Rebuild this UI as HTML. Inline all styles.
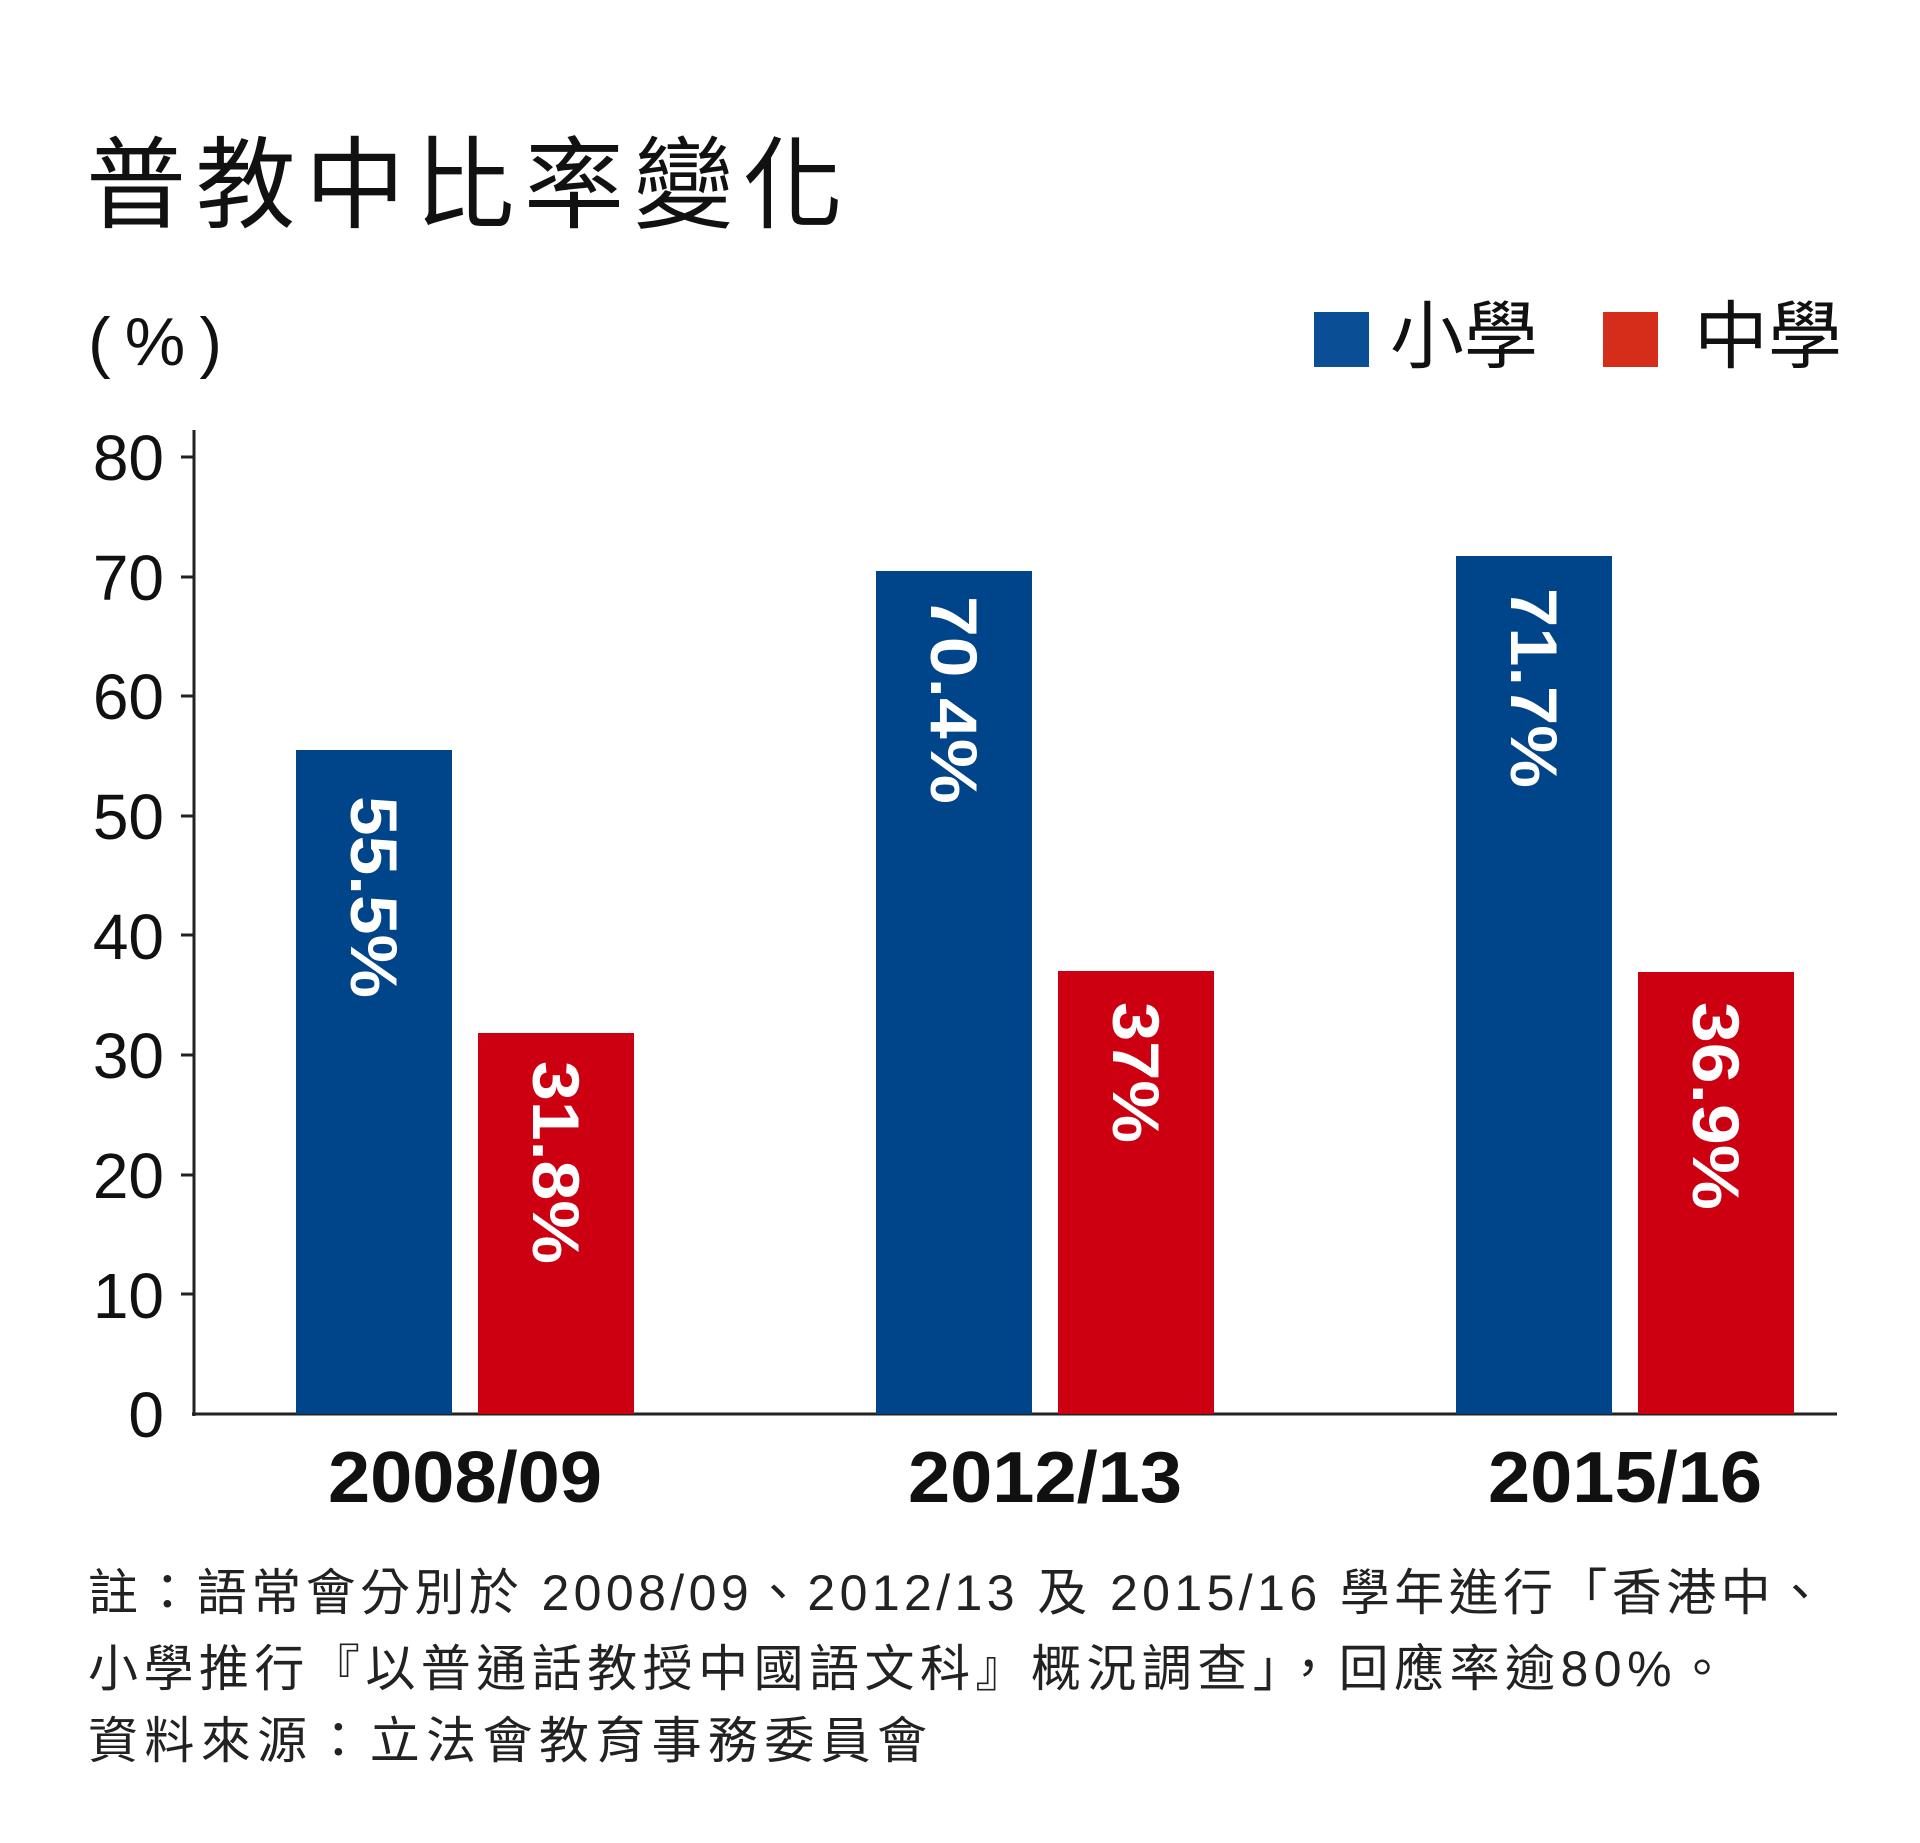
<!DOCTYPE html>
<html><head><meta charset="utf-8"><style>
html,body{margin:0;padding:0;background:#fff}
svg{display:block}
text{font-family:"Liberation Sans","Noto Sans CJK TC",sans-serif}
</style></head><body>
<svg width="1920" height="1843" viewBox="0 0 1920 1843" xmlns="http://www.w3.org/2000/svg">
<rect width="1920" height="1843" fill="#fff"/>
<text x="86" y="220" font-size="100" fill="#111" textLength="757" lengthAdjust="spacing">普教中比率變化</text>
<text x="88" y="365" font-size="68" fill="#111" textLength="134" lengthAdjust="spacing">(%)</text>
<rect x="1314" y="312" width="55" height="55" fill="#0a4f96"/>
<text x="1390" y="362" font-size="74" fill="#111">小學</text>
<rect x="1603" y="312" width="55" height="55" fill="#d42e1a"/>
<text x="1694" y="362" font-size="74" fill="#111">中學</text>
<g font-size="64" fill="#111" text-anchor="end">
<text x="164" y="480">80</text><text x="164" y="600">70</text><text x="164" y="719">60</text>
<text x="164" y="839">50</text><text x="164" y="959">40</text><text x="164" y="1078">30</text>
<text x="164" y="1198">20</text><text x="164" y="1318">10</text><text x="164" y="1437">0</text>
</g>
<g stroke="#222" stroke-width="3">
<line x1="194" y1="430" x2="194" y2="1416"/>
<line x1="192" y1="1414" x2="1837" y2="1414"/>
<line x1="181" y1="457" x2="194" y2="457"/><line x1="181" y1="577" x2="194" y2="577"/>
<line x1="181" y1="696" x2="194" y2="696"/><line x1="181" y1="816" x2="194" y2="816"/>
<line x1="181" y1="935" x2="194" y2="935"/><line x1="181" y1="1055" x2="194" y2="1055"/>
<line x1="181" y1="1175" x2="194" y2="1175"/><line x1="181" y1="1294" x2="194" y2="1294"/>
</g>
<rect x="296" y="750" width="156" height="664" fill="#004489"/>
<rect x="478" y="1033" width="156" height="381" fill="#cc0011"/>
<rect x="876" y="571" width="156" height="843" fill="#004489"/>
<rect x="1058" y="971" width="156" height="443" fill="#cc0011"/>
<rect x="1456" y="556" width="156" height="858" fill="#004489"/>
<rect x="1638" y="972" width="156" height="442" fill="#cc0011"/>
<g font-size="66" font-weight="bold" fill="#fff" dominant-baseline="central">
<text x="374" y="796" transform="rotate(90 374 796)" textLength="202" lengthAdjust="spacingAndGlyphs">55.5%</text>
<text x="556" y="1061" transform="rotate(90 556 1061)" textLength="203" lengthAdjust="spacingAndGlyphs">31.8%</text>
<text x="954" y="596" transform="rotate(90 954 596)" textLength="208" lengthAdjust="spacingAndGlyphs">70.4%</text>
<text x="1136" y="1002" transform="rotate(90 1136 1002)" textLength="141" lengthAdjust="spacingAndGlyphs">37%</text>
<text x="1534" y="588" transform="rotate(90 1534 588)" textLength="200" lengthAdjust="spacingAndGlyphs">71.7%</text>
<text x="1716" y="1002" transform="rotate(90 1716 1002)" textLength="208" lengthAdjust="spacingAndGlyphs">36.9%</text>
</g>
<g font-size="72" font-weight="bold" fill="#111" text-anchor="middle">
<text x="465" y="1502" textLength="274" lengthAdjust="spacingAndGlyphs">2008/09</text>
<text x="1045" y="1502" textLength="274" lengthAdjust="spacingAndGlyphs">2012/13</text>
<text x="1625" y="1502" textLength="274" lengthAdjust="spacingAndGlyphs">2015/16</text>
</g>
<g font-size="50" fill="#222">
<text x="88" y="1610" textLength="1737" lengthAdjust="spacing">註：語常會分別於 2008/09、2012/13 及 2015/16 學年進行「香港中、</text>
<text x="88" y="1686" textLength="1639" lengthAdjust="spacing">小學推行『以普通話教授中國語文科』概況調查」，回應率逾80%。</text>
<text x="88" y="1758" textLength="839" lengthAdjust="spacing">資料來源：立法會教育事務委員會</text>
</g>
</svg>
</body></html>
